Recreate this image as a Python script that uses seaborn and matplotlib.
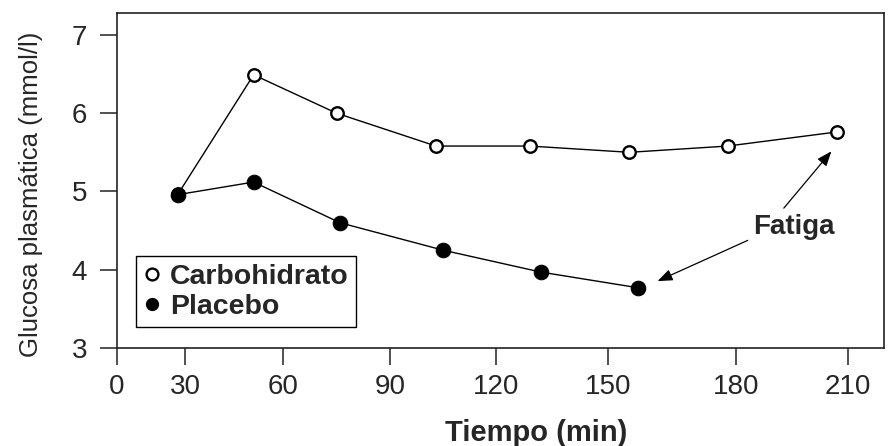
import numpy as np
import pandas as pd
import matplotlib
matplotlib.use("Agg")
import matplotlib.pyplot as plt
import seaborn as sns
from matplotlib.lines import Line2D

# Datos
tiempo_cho = [27, 51, 75, 103, 129, 155, 178, 207]
glucosa_cho = [4.97, 6.49, 6.00, 5.58, 5.58, 5.50, 5.58, 5.76]
tiempo_pla = [27, 51, 76, 105, 132, 157]
glucosa_pla = [4.96, 5.12, 4.60, 4.25, 3.97, 3.77]

x_ticks = [0, 30, 60, 90, 120, 150, 180, 210]
y_ticks = [3, 4, 5, 6, 7]

# el eje x del original no es regular: escala por tramos
escala_val = [-30, 0, 30, 60, 90, 120, 150, 180, 210, 240]
escala_pos = [49, 117, 185, 283, 390, 496, 608, 736, 848, 960]

def fwd(v):
    return np.interp(v, escala_val, escala_pos)

def inv(p):
    return np.interp(p, escala_pos, escala_val)

df_cho = pd.DataFrame({"Tiempo": tiempo_cho, "Glucosa": glucosa_cho})
df_pla = pd.DataFrame({"Tiempo": tiempo_pla, "Glucosa": glucosa_pla})

sns.set_style("ticks")
plt.rcParams["font.family"] = ["Liberation Sans", "DejaVu Sans"]

fig = plt.figure(figsize=(8.95, 4.46), dpi=100)
ax = fig.add_axes([0.1307, 0.2197, 0.857, 0.7512])
ax.set_xscale("function", functions=(fwd, inv))

sns.lineplot(data=df_cho, x="Tiempo", y="Glucosa", ax=ax, color="black", lw=1.0,
             marker="o", markersize=9, markerfacecolor="white",
             markeredgecolor="black", markeredgewidth=1.7, legend=False)
sns.lineplot(data=df_pla, x="Tiempo", y="Glucosa", ax=ax, color="black", lw=1.0,
             marker="o", markersize=10.5, markerfacecolor="black",
             markeredgecolor="black", legend=False)

ax.set_xlim(0, 219.6)
ax.set_ylim(3, 7.28)
ax.set_xticks(x_ticks)
ax.set_yticks(y_ticks)
ax.minorticks_off()
ax.tick_params(direction="out", length=12.5, width=1.1, labelsize=20, color="#222")
ax.tick_params(axis="y", pad=9)
ax.tick_params(axis="x", pad=6)
for s in ax.spines.values():
    s.set_linewidth(1.2)
    s.set_color("#222")

ax.set_xlabel("Tiempo (min)", fontsize=21, fontweight="bold")
ax.set_ylabel("Glucosa plasmática (mmol/l)", fontsize=18.5)
ax.xaxis.set_label_coords(0.546, -0.212)
ax.yaxis.set_label_coords(-0.097, 0.46)

handles = [
    Line2D([], [], ls="none", marker="o", markersize=8.5, markerfacecolor="white",
           markeredgecolor="black", markeredgewidth=1.7, label="Carbohidrato"),
    Line2D([], [], ls="none", marker="o", markersize=8.5, markerfacecolor="black",
           markeredgecolor="black", label="Placebo"),
]
leg = ax.legend(handles=handles, loc="lower left", bbox_to_anchor=(0.025, 0.063),
                borderaxespad=0, fancybox=False, edgecolor="black", framealpha=1,
                prop={"size": 20.5, "weight": "bold"}, handlelength=0.6,
                handletextpad=0.35, labelspacing=0.15, borderpad=0.25)
leg.get_frame().set_linewidth(1.0)

# Fatiga
ax.text(195.5, 4.55, "Fatiga", fontsize=20, fontweight="bold", ha="center", va="center")
arrow = dict(arrowstyle="-|>,head_length=0.9,head_width=0.35", color="black", lw=0.9)
ax.annotate("", xy=(206, 5.54), xytext=(192.3, 4.76), arrowprops=arrow)
ax.annotate("", xy=(161, 3.84), xytext=(183.8, 4.39), arrowprops=arrow)

fig.savefig("out.png", dpi=100)
